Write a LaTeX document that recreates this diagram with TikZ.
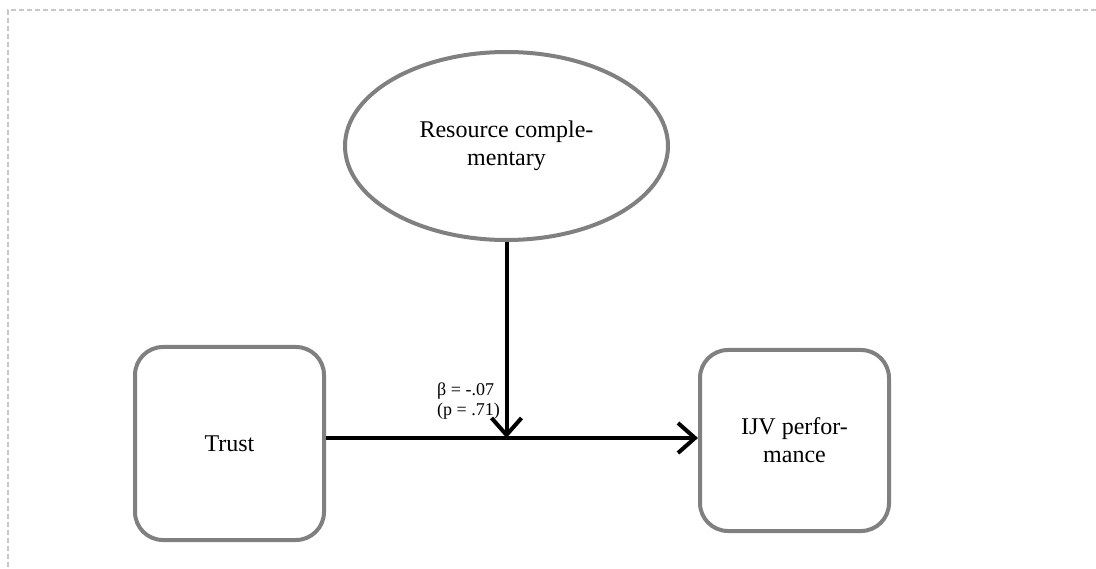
\documentclass[tikz,border=0pt]{standalone}
\usepackage{fontspec}
\setmainfont{Liberation Serif}
\usetikzlibrary{arrows.meta,shapes.geometric}
\definecolor{outline}{HTML}{808080}
\definecolor{frame}{HTML}{C8C8C8}
\tikzset{
  construct/.style={draw=outline, line width=4pt, rounded corners=28pt,
    minimum width=189pt, inner sep=0pt, align=center,
    font=\fontsize{24}{28}\selectfont},
  moderator/.style={ellipse, draw=outline, line width=4pt,
    minimum width=323pt, minimum height=188pt, inner sep=0pt, align=center,
    font=\fontsize{24}{28}\selectfont},
  path/.style={draw=black, line width=4pt,
    -{Straight Barb[length=17pt,width=30pt]}},
  coef/.style={align=left, inner sep=0pt, font=\fontsize{18}{20}\selectfont},
}
\begin{document}
\begin{tikzpicture}[x=1pt, y=-1pt]
  \useasboundingbox (0,0) rectangle (1096,569);
  % dashed page frame
  \draw[frame, line width=2pt, dash pattern=on 5pt off 3pt] (1096,10) -- (8,10) -- (8,569);

  \node[moderator] (rc) at (506.5,146) {Resource comple-\\mentary};
  \node[construct, minimum height=193pt] (trust) at (229.5,443.5) {Trust};
  \node[construct, minimum height=181pt] (ijv) at (794.5,440.5) {IJV perfor-\\mance};

  % meeting point of the moderating path on the main path
  \coordinate (m) at (506.5,438);
  \draw[path] (trust.east |- m) -- (ijv.west |- m);
  \draw[path] (rc.south) -- (m);

  \node[coef, anchor=west] (beta) at (437,401) {β = -.07\\(p = .71)};
\end{tikzpicture}
\end{document}
